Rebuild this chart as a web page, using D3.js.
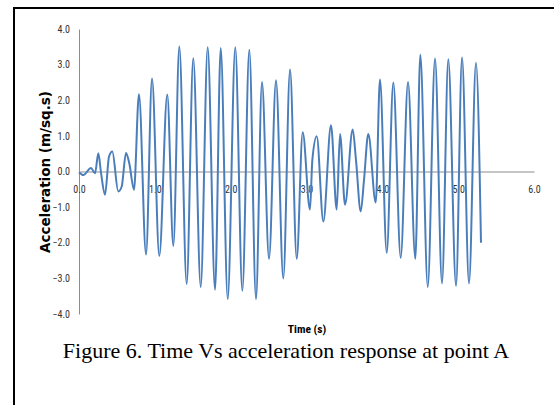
<!DOCTYPE html>
<html><head><meta charset="utf-8">
<script src="https://cdn.jsdelivr.net/npm/d3@7"></script>
<style>
html,body{margin:0;padding:0;background:#fff;}
svg{display:block;}
</style></head>
<body>
<svg id="chart" width="554" height="405"></svg>
<script>
// Data: time (s) and acceleration (m/sq.s) read at turning points of the trace
const times = [0.000,0.057,0.158,0.211,0.255,0.290,0.343,0.396,0.439,0.518,0.563,0.620,0.663,0.725,
  0.791,0.884,0.963,1.059,1.164,1.244,1.323,1.420,1.507,1.605,1.697,1.794,1.869,1.961,2.061,2.154,
  2.246,2.334,2.413,2.506,2.598,2.694,2.783,2.871,2.950,3.046,3.077,3.135,3.222,3.323,3.398,3.442,
  3.508,3.609,3.653,3.715,3.758,3.815,3.913,3.969,4.058,4.145,4.242,4.339,4.435,4.501,4.599,4.695,
  4.787,4.870,4.972,5.051,5.143,5.235,5.301];
const accel = [-0.02,-0.10,0.10,-0.05,0.51,-0.03,-0.65,0.42,0.56,-0.56,-0.42,0.52,0.23,-0.51,
  2.17,-2.33,2.61,-2.37,2.16,-2.09,3.51,-3.16,3.18,-3.24,3.49,-3.32,3.47,-3.58,3.49,-3.35,
  3.42,-3.58,2.51,-2.45,2.56,-3.00,2.86,-2.45,1.10,-1.07,0.32,0.99,-1.40,1.30,-1.07,1.05,
  -0.93,1.18,0.31,-1.12,-0.25,1.05,-0.87,2.58,-2.28,2.50,-2.42,2.51,-2.45,3.28,-3.24,3.17,
  -3.14,3.15,-3.21,3.20,-3.14,3.05,-2.00];
const xTicks = [0,1,2,3,4,5,6];
const yTicks = [-4,-3,-2,-1,0,1,2,3,4];
const xTitle = "Time (s)";
const yTitle = "Acceleration (m/sq.s)";
const caption = "Figure 6. Time Vs acceleration response at point A";

const svg = d3.select("#chart");
const x = d3.scaleLinear().domain([0,6]).range([79,534]);
const y = d3.scaleLinear().domain([-4,4]).range([314,29]);
const labelFont = '"Liberation Sans Narrow","Arial Narrow","Roboto Condensed",sans-serif';

// frame
svg.append("line").attr("x1",14).attr("x2",554).attr("y1",8).attr("y2",8)
  .attr("stroke","#000").attr("stroke-width",2);
svg.append("line").attr("x1",14).attr("x2",14).attr("y1",7).attr("y2",405)
  .attr("stroke","#000").attr("stroke-width",2);

// y axis
const gy = svg.append("g").attr("transform",`translate(${x(0)},0)`)
  .call(d3.axisLeft(y).tickValues(yTicks).tickSize(0).tickPadding(9).tickFormat(d3.format(".1f")));
gy.select(".domain").attr("stroke","#8c8c8c").attr("stroke-width",1);
gy.selectAll("text").attr("font-family",labelFont).attr("font-size",10).attr("fill","#333");

// x axis at zero
const gx = svg.append("g").attr("transform",`translate(0,${y(0)})`)
  .call(d3.axisBottom(x).tickValues(xTicks).tickSize(0).tickPadding(14).tickFormat(d3.format(".1f")));
gx.select(".domain").attr("stroke","#8c8c8c").attr("stroke-width",1);
gx.selectAll("text").attr("font-family",labelFont).attr("font-size",10).attr("fill","#333");

// series
const pts = times.map((t,i)=>[t,accel[i]]);
svg.append("path").datum(pts)
  .attr("fill","none").attr("stroke","#4a7ebb").attr("stroke-width",2)
  .attr("stroke-linejoin","round")
  .attr("d", d3.line().x(d=>x(d[0])).y(d=>y(d[1])).curve(d3.curveMonotoneX));

// axis titles
svg.append("text").attr("x",307).attr("y",333).attr("text-anchor","middle")
  .attr("font-family",labelFont).attr("font-weight","bold").attr("font-size",11.5).attr("fill","#000")
  .text(xTitle);
svg.append("text").attr("transform","translate(50,172) rotate(-90)").attr("text-anchor","middle")
  .attr("font-family","DejaVu Sans, Verdana, sans-serif").attr("font-weight","bold").attr("font-size",13.5)
  .attr("fill","#000").text(yTitle);

// caption
svg.append("text").attr("x",286).attr("y",358).attr("text-anchor","middle")
  .attr("font-family",'"Liberation Serif","Times New Roman",serif').attr("font-size",22).attr("fill","#000")
  .text(caption);
</script>
</body></html>
